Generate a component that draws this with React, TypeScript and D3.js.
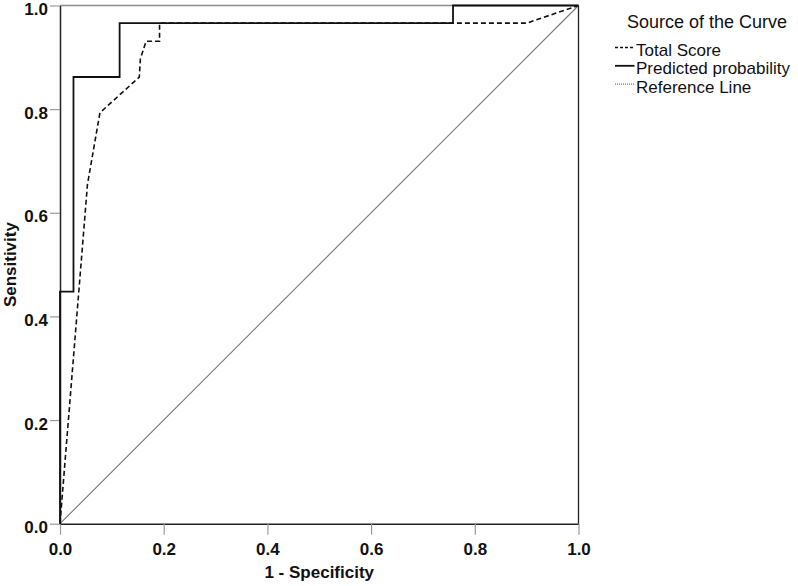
import * as d3 from "d3";
import { useEffect, useRef } from "react";

const width = 798;
const height = 586;
const plot = { left: 60, right: 578.5, top: 5.5, bottom: 523.7 };

// ROC points (1 - specificity, sensitivity)
const predictedFpr = [0, 0, 0.026, 0.026, 0.115, 0.115, 0.758, 0.758, 1];
const predictedTpr = [0, 0.448, 0.448, 0.862, 0.862, 0.966, 0.966, 1, 1];
const totalFpr = [0, 0.053, 0.077, 0.153, 0.155, 0.166, 0.192, 0.192, 0.9, 1];
const totalTpr = [0, 0.655, 0.793, 0.862, 0.897, 0.931, 0.931, 0.966, 0.966, 1];
const referenceFpr = [0, 1];
const referenceTpr = [0, 1];

const tickValues = [0, 0.2, 0.4, 0.6, 0.8, 1.0];
const legendTitle = "Source of the Curve";
const legendLabels = ["Total Score", "Predicted probability", "Reference Line"];

const FONT = "'Liberation Sans', Arial, sans-serif";

const App = () => {
  const svgRef = useRef(null);

  useEffect(() => {
    const svg = d3.select(svgRef.current);
    svg.selectAll("*").remove();

    const x = d3.scaleLinear().domain([0, 1]).range([plot.left, plot.right]);
    const y = d3.scaleLinear().domain([0, 1]).range([plot.bottom, plot.top]);

    // frame (top gray, right black)
    svg
      .append("line")
      .attr("x1", plot.left)
      .attr("x2", plot.right)
      .attr("y1", plot.top)
      .attr("y2", plot.top)
      .attr("stroke", "#8c8c8c")
      .attr("stroke-width", 1.6);
    svg
      .append("line")
      .attr("x1", plot.right)
      .attr("x2", plot.right)
      .attr("y1", plot.top)
      .attr("y2", plot.bottom)
      .attr("stroke", "#222")
      .attr("stroke-width", 1.3);

    // x-axis
    const xAxis = svg
      .append("g")
      .attr("transform", `translate(0, ${plot.bottom})`)
      .call(
        d3
          .axisBottom(x)
          .tickValues(tickValues)
          .tickFormat(d3.format(".1f"))
          .tickSizeInner(11)
          .tickSizeOuter(0)
          .tickPadding(8)
      );
    xAxis.select(".domain").attr("stroke", "#222").attr("stroke-width", 1.5);
    xAxis.selectAll(".tick line").attr("stroke", "#9a9a9a").attr("stroke-width", 1.2);
    xAxis
      .selectAll(".tick text")
      .attr("font-family", FONT)
      .attr("font-size", 17)
      .attr("font-weight", "bold")
      .attr("fill", "#111")
      .attr("dy", "0.71em");

    // y-axis
    const yAxis = svg
      .append("g")
      .attr("transform", `translate(${plot.left}, 0)`)
      .call(
        d3
          .axisLeft(y)
          .tickValues(tickValues)
          .tickFormat(d3.format(".1f"))
          .tickSizeInner(10)
          .tickSizeOuter(0)
          .tickPadding(2)
      );
    yAxis.select(".domain").attr("stroke", "#222").attr("stroke-width", 1.5);
    yAxis.selectAll(".tick line").attr("stroke", "#9a9a9a").attr("stroke-width", 1.2);
    yAxis
      .selectAll(".tick text")
      .attr("font-family", FONT)
      .attr("font-size", 17)
      .attr("font-weight", "bold")
      .attr("fill", "#111")
      .attr("dy", "0.53em");

    // axis titles
    svg
      .append("text")
      .attr("x", (plot.left + plot.right) / 2)
      .attr("y", 577.5)
      .attr("text-anchor", "middle")
      .attr("font-family", FONT)
      .attr("font-size", 17)
      .attr("font-weight", "bold")
      .attr("fill", "#111")
      .text("1 - Specificity");
    svg
      .append("text")
      .attr("transform", `translate(15.5, ${(plot.top + plot.bottom) / 2}) rotate(-90)`)
      .attr("text-anchor", "middle")
      .attr("font-family", FONT)
      .attr("font-size", 17)
      .attr("font-weight", "bold")
      .attr("fill", "#111")
      .text("Sensitivity");

    const line = d3
      .line()
      .x((d) => x(d[0]))
      .y((d) => y(d[1]));

    const curves = [
      { fpr: referenceFpr, tpr: referenceTpr, stroke: "#777", width: 1.1, dash: null },
      { fpr: totalFpr, tpr: totalTpr, stroke: "#111", width: 1.6, dash: "5,3" },
      { fpr: predictedFpr, tpr: predictedTpr, stroke: "#111", width: 1.8, dash: null },
    ];

    svg
      .append("g")
      .selectAll("path")
      .data(curves)
      .join("path")
      .attr("fill", "none")
      .attr("stroke", (d) => d.stroke)
      .attr("stroke-width", (d) => d.width)
      .attr("stroke-dasharray", (d) => d.dash)
      .attr("d", (d) => line(d.fpr.map((v, i) => [v, d.tpr[i]])));

    // legend
    const legend = svg.append("g").attr("font-family", FONT).attr("fill", "#111");
    legend
      .append("text")
      .attr("x", 627)
      .attr("y", 28.3)
      .attr("font-size", 18)
      .text(legendTitle);

    const legendStyles = [
      { stroke: "#111", width: 1.3, dash: "3,2" },
      { stroke: "#111", width: 1.8, dash: null },
      { stroke: "#777", width: 1.3, dash: "1,1" },
    ];

    const items = legend
      .selectAll(".item")
      .data(legendLabels)
      .join("g")
      .attr("class", "item")
      .attr("transform", (_, i) => `translate(0, ${56 + i * 18.3})`);

    items
      .append("line")
      .attr("x1", 615)
      .attr("x2", 634.5)
      .attr("y1", -8.5)
      .attr("y2", -8.5)
      .attr("stroke", (_, i) => legendStyles[i].stroke)
      .attr("stroke-width", (_, i) => legendStyles[i].width)
      .attr("stroke-dasharray", (_, i) => legendStyles[i].dash);

    items
      .append("text")
      .attr("x", 636)
      .attr("y", 0)
      .attr("font-size", 17)
      .text((d) => d);
  }, []);

  return (
    <svg
      ref={svgRef}
      width={width}
      height={height}
      style={{ position: "absolute", left: 0, top: 0, background: "#fff" }}
    />
  );
};

export default App;
